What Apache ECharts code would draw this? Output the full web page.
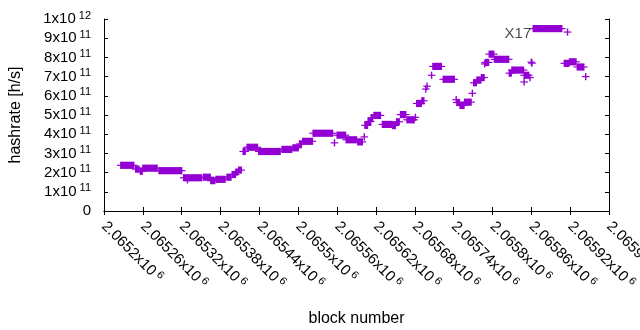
<!DOCTYPE html>
<html>
<head>
<meta charset="utf-8">
<script src="https://cdn.jsdelivr.net/npm/echarts@6.0.0/dist/echarts.min.js"></script>
<style>
  html, body { margin: 0; padding: 0; background: #fff; }
  #chart { width: 640px; height: 330px; }
</style>
</head>
<body>
<div id="chart"></div>
<script>
// x axis: block numbers, ticks every 60 blocks
const xMin = 2065200
const xMax = 2065980
const xStep = 60
const xTickLabels = ['2.0652', '2.06526', '2.06532', '2.06538', '2.06544', '2.0655', '2.06556',
  '2.06562', '2.06568', '2.06574', '2.0658', '2.06586', '2.06592', '2.06598']

// y axis: hashrate, ticks every 1e11
const yTickMantissa = ['0', '1', '2', '3', '4', '5', '6', '7', '8', '9', '1']
const yTickExponent = ['', '11', '11', '11', '11', '11', '11', '11', '11', '11', '12']

// runs of consecutive blocks reporting the same hashrate (single blocks have start == end)
const runStart = [
  2065226, 2065249, 2065256, 2065260, 2065285, 2065323, 2065329, 2065354, 2065365, 2065373,
  2065390, 2065398, 2065404, 2065408, 2065415, 2065421, 2065439, 2065475, 2065492, 2065502,
  2065507, 2065523, 2065556, 2065560, 2065574, 2065592, 2065602, 2065603, 2065608, 2065613,
  2065617, 2065630, 2065646, 2065652, 2065658, 2065668, 2065681, 2065683, 2065691, 2065697,
  2065699, 2065706, 2065708, 2065724, 2065744, 2065745, 2065750, 2065757, 2065769, 2065771,
  2065776, 2065783, 2065788, 2065789, 2065795, 2065803, 2065826, 2065830, 2065849, 2065849,
  2065858, 2065860, 2065861, 2065863, 2065916, 2065911, 2065919, 2065931, 2065944
]
const runEnd = [
  2065246, 2065254, 2065259, 2065282, 2065320, 2065351, 2065329, 2065364, 2065371, 2065387,
  2065396, 2065403, 2065406, 2065412, 2065418, 2065437, 2065472, 2065490, 2065500, 2065505,
  2065522, 2065553, 2065556, 2065573, 2065590, 2065599, 2065602, 2065607, 2065612, 2065615,
  2065627, 2065645, 2065650, 2065656, 2065666, 2065679, 2065681, 2065690, 2065694, 2065697,
  2065699, 2065706, 2065721, 2065741, 2065744, 2065749, 2065756, 2065767, 2065769, 2065775,
  2065782, 2065787, 2065788, 2065794, 2065802, 2065825, 2065829, 2065848, 2065849, 2065856,
  2065858, 2065860, 2065861, 2065907, 2065916, 2065918, 2065929, 2065941, 2065944
]
const hashrate = [
  2.38e11, 2.18e11, 2.07e11, 2.23e11, 2.10e11, 1.73e11, 1.62e11, 1.76e11, 1.58e11, 1.65e11,
  1.76e11, 1.90e11, 2.03e11, 2.13e11, 3.10e11, 3.32e11, 3.10e11, 3.21e11, 3.29e11, 3.49e11,
  3.63e11, 4.05e11, 3.55e11, 3.95e11, 3.71e11, 3.60e11, 3.86e11, 4.46e11, 4.66e11, 4.86e11,
  4.98e11, 4.51e11, 4.45e11, 4.65e11, 5.02e11, 4.75e11, 4.88e11, 5.60e11, 5.74e11, 6.35e11,
  6.50e11, 7.07e11, 7.53e11, 6.86e11, 5.80e11, 5.65e11, 5.50e11, 5.67e11, 6.13e11, 6.68e11,
  6.82e11, 6.95e11, 7.66e11, 7.74e11, 8.17e11, 7.90e11, 7.18e11, 7.34e11, 6.72e11, 7.07e11,
  6.95e11, 7.75e11, 7.70e11, 9.50e11, 9.32e11, 7.69e11, 7.77e11, 7.50e11, 7.00e11
]

// text label placed next to one run
const noteText = 'X17'
const noteRun = 63

const purple = '#9400d3'
const font = '"Liberation Sans", Arial, sans-serif'

const runs = runStart.map((s, i) => [s, runEnd[i], hashrate[i]])

function renderRun(params, api) {
  const a = api.coord([api.value(0), api.value(2)])
  const b = api.coord([api.value(1), api.value(2)])
  const fill = purple
  return {
    type: 'group',
    children: [
      { type: 'rect', shape: { x: a[0] - 0.7, y: a[1] - 3.6, width: b[0] - a[0] + 1.4, height: 7.2 }, style: { fill } },
      { type: 'rect', shape: { x: a[0] - 3.8, y: a[1] - 0.6, width: b[0] - a[0] + 7.6, height: 1.2 }, style: { fill } }
    ]
  }
}

const tickRich = {
  m: { fontSize: 15, fontFamily: font, color: '#000', lineHeight: 18 },
  s: { fontSize: 11, fontFamily: font, color: '#000', lineHeight: 11, verticalAlign: 'top', padding: [0, 0, 0, 3] }
}

function xLabel(v) {
  const i = Math.round((v - xMin) / xStep)
  return '{m|' + xTickLabels[i] + 'x10}{s|6}'
}

function yLabel(v) {
  const i = Math.round(v / 1e11)
  if (i === 0) return '{m|0}'
  return '{m|' + yTickMantissa[i] + 'x10}{s|' + yTickExponent[i] + '}'
}

const xBase = {
  type: 'value', min: xMin, max: xMax, interval: xStep,
  axisLine: { show: true, lineStyle: { color: '#000', width: 1 } },
  axisTick: { show: true, inside: true, length: 4, lineStyle: { color: '#000' } },
  splitLine: { show: false }
}
const yBase = {
  type: 'value', min: 0, max: 1e12, interval: 1e11,
  axisLine: { show: true, lineStyle: { color: '#000', width: 1 } },
  axisTick: { show: true, inside: true, length: 4, lineStyle: { color: '#000' } },
  splitLine: { show: false }
}

const chart = echarts.init(document.getElementById('chart'), null, { renderer: 'canvas' })
chart.setOption({
  animation: false,
  backgroundColor: '#fff',
  textStyle: { fontFamily: font },
  grid: { left: 104, right: 31, top: 19, bottom: 119, containLabel: false, outerBoundsMode: 'none' },
  xAxis: [
    Object.assign({}, xBase, {
      position: 'bottom',
      name: 'block number', nameLocation: 'middle', nameGap: 100,
      nameTextStyle: { fontSize: 16, color: '#000', fontFamily: font },
      axisLabel: { rotate: -45, margin: 13, formatter: xLabel, rich: tickRich, hideOverlap: false, showMinLabel: true, showMaxLabel: true }
    }),
    Object.assign({}, xBase, { position: 'top', axisLabel: { show: false } })
  ],
  yAxis: [
    Object.assign({}, yBase, {
      position: 'left',
      name: 'hashrate [h/s]', nameLocation: 'middle', nameGap: 80, nameRotate: 90,
      nameTextStyle: { fontSize: 16, color: '#000', fontFamily: font },
      axisLabel: { margin: 13, formatter: yLabel, rich: tickRich }
    }),
    Object.assign({}, yBase, { position: 'right', axisLabel: { show: false } })
  ],
  series: [
    {
      type: 'custom',
      xAxisIndex: 0, yAxisIndex: 0,
      renderItem: renderRun,
      encode: { x: [0, 1], y: 2 },
      data: runs,
      clip: true
    },
    {
      type: 'scatter',
      symbolSize: 0,
      silent: true,
      data: [[runStart[noteRun], hashrate[noteRun]]],
      label: {
        show: true, position: 'left', distance: 2, offset: [0, 5],
        formatter: noteText, fontSize: 15, color: '#222', fontFamily: font
      }
    }
  ]
})
</script>
</body>
</html>
